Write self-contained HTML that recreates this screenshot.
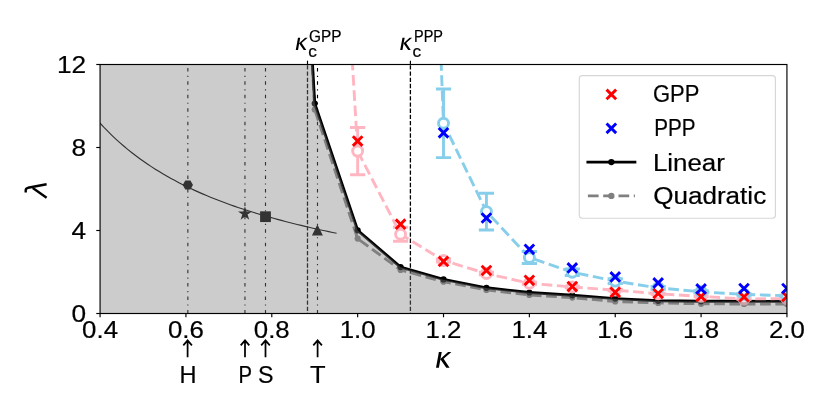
<!DOCTYPE html>
<html><head><meta charset="utf-8"><title>chart</title><style>html,body{margin:0;padding:0;background:#fff;}body{width:830px;height:415px;overflow:hidden;position:relative;font-family:"Liberation Sans",sans-serif;}</style></head><body>
<svg width="830" height="415" viewBox="0 0 830 415" style="position:absolute;left:0;top:0;will-change:transform;font-family:'Liberation Sans',sans-serif">
<defs><clipPath id="ax"><rect x="100.07" y="64.5" width="686.86" height="249"/></clipPath></defs>
<rect x="0" y="0" width="830" height="415" fill="#fff"/>
<g clip-path="url(#ax)">
<polyline points="100.07,123.13 104.01,127.38 107.95,131.44 111.9,135.33 115.84,139.05 119.78,142.62 123.72,146.04 127.67,149.33 131.61,152.5 135.55,155.54 139.49,158.47 143.44,161.29 147.38,164.01 151.32,166.63 155.26,169.16 159.21,171.61 163.15,173.97 167.09,176.26 171.03,178.47 174.98,180.61 178.92,182.68 182.86,184.69 186.8,186.64 190.75,188.53 194.69,190.36 198.63,192.14 202.57,193.87 206.51,195.55 210.46,197.18 214.4,198.77 218.34,200.31 222.28,201.82 226.23,203.28 230.17,204.71 234.11,206.09 238.05,207.45 242,208.77 245.94,210.05 249.88,211.31 253.82,212.53 257.77,213.73 261.71,214.89 265.65,216.03 269.59,217.14 273.54,218.25 277.48,219.34 281.42,220.41 285.36,221.46 289.31,222.48 293.25,223.48 297.19,224.47 301.13,225.43 305.08,226.37 309.02,227.3 312.96,228.2 316.9,229.09 320.84,229.96 324.79,230.81 328.73,231.65 332.67,232.47 336.61,233.28" fill="none" stroke="#000" stroke-width="1.15"/>
<polygon points="192.17,185 190.01,188.74 185.69,188.74 183.53,185 185.69,181.26 190.01,181.26" fill="#000" stroke="#000" stroke-width="1.44" stroke-linejoin="miter" stroke-miterlimit="10"/>
<polygon points="244.95,208.7 246.07,212.15 249.71,212.15 246.77,214.29 247.89,217.75 244.95,215.61 242.01,217.75 243.13,214.29 240.19,212.15 243.83,212.15" fill="#000" stroke="#000" stroke-width="1.44" stroke-linejoin="miter" stroke-miterlimit="10"/>
<rect x="260.85" y="212.05" width="9.3" height="9.3" fill="#000" stroke="#000" stroke-width="1.44" stroke-linejoin="miter" stroke-miterlimit="10"/>
<polygon points="317.4,226.08 313.08,234.72 321.72,234.72" fill="#000" stroke="#000" stroke-width="1.44" stroke-linejoin="miter" stroke-miterlimit="10"/>
<line x1="187.85" y1="313.5" x2="187.85" y2="64.5" stroke="#000" stroke-width="1.15" stroke-dasharray="3.5 4.4 1.15 4.4"/>
<line x1="244.95" y1="313.5" x2="244.95" y2="64.5" stroke="#000" stroke-width="1.15" stroke-dasharray="3.5 4.4 1.15 4.4"/>
<line x1="265.5" y1="313.5" x2="265.5" y2="64.5" stroke="#000" stroke-width="1.15" stroke-dasharray="3.5 4.4 1.15 4.4"/>
<line x1="317.5" y1="313.5" x2="317.5" y2="64.5" stroke="#000" stroke-width="1.15" stroke-dasharray="3.5 4.4 1.15 4.4"/>
</g>
<line x1="307.5" y1="313.5" x2="307.5" y2="64.5" stroke="#000" stroke-width="1.3" stroke-dasharray="4.33 1.86" stroke-dashoffset="3.68"/>
<line x1="307.5" y1="64.5" x2="307.5" y2="60.7" stroke="#000" stroke-width="1.15"/>
<line x1="410.4" y1="313.5" x2="410.4" y2="64.5" stroke="#000" stroke-width="1.3" stroke-dasharray="4.33 1.86" stroke-dashoffset="3.68"/>
<line x1="410.4" y1="64.5" x2="410.4" y2="60.7" stroke="#000" stroke-width="1.15"/>
<g clip-path="url(#ax)">
<polyline points="312.3,64.5 314.72,109.5 357.65,238.6 400.58,269.9 443.51,281.7 486.44,289.9 529.37,295 572.3,297.6 615.23,301.5 658.16,302.9 701.09,303.8 744.02,304 786.95,304" fill="none" stroke="#808080" stroke-width="2.9" stroke-dasharray="10.7 4.6" stroke-linejoin="round"/>
<circle cx="314.72" cy="109.5" r="3.1" fill="#808080"/>
<circle cx="357.65" cy="238.6" r="3.1" fill="#808080"/>
<circle cx="400.58" cy="269.9" r="3.1" fill="#808080"/>
<circle cx="443.51" cy="281.7" r="3.1" fill="#808080"/>
<circle cx="486.44" cy="289.9" r="3.1" fill="#808080"/>
<circle cx="529.37" cy="295" r="3.1" fill="#808080"/>
<circle cx="572.3" cy="297.6" r="3.1" fill="#808080"/>
<circle cx="615.23" cy="301.5" r="3.1" fill="#808080"/>
<circle cx="658.16" cy="302.9" r="3.1" fill="#808080"/>
<circle cx="701.09" cy="303.8" r="3.1" fill="#808080"/>
<circle cx="744.02" cy="304" r="3.1" fill="#808080"/>
<circle cx="786.95" cy="304" r="3.1" fill="#808080"/>
<polyline points="312.5,64.5 314.72,103.5 357.65,230.3 400.58,267.1 443.51,279.4 486.44,287.8 529.37,292.5 572.3,295.3 615.23,298.6 658.16,300.8 701.09,301.3 744.02,301.3 786.95,301.4" fill="none" stroke="#000" stroke-width="2.9" stroke-linejoin="round"/>
<circle cx="314.72" cy="103.5" r="3.1" fill="#000"/>
<circle cx="357.65" cy="230.3" r="3.1" fill="#000"/>
<circle cx="400.58" cy="267.1" r="3.1" fill="#000"/>
<circle cx="443.51" cy="279.4" r="3.1" fill="#000"/>
<circle cx="486.44" cy="287.8" r="3.1" fill="#000"/>
<circle cx="529.37" cy="292.5" r="3.1" fill="#000"/>
<circle cx="572.3" cy="295.3" r="3.1" fill="#000"/>
<circle cx="615.23" cy="298.6" r="3.1" fill="#000"/>
<circle cx="658.16" cy="300.8" r="3.1" fill="#000"/>
<circle cx="701.09" cy="301.3" r="3.1" fill="#000"/>
<circle cx="744.02" cy="301.3" r="3.1" fill="#000"/>
<circle cx="786.95" cy="301.4" r="3.1" fill="#000"/>
<polyline points="352.51,64.5 357.65,151.1 400.58,234.2 443.51,260.5 486.44,273.5 529.37,283.3 572.3,287 615.23,290.1 658.16,293.8 701.09,296.4 744.02,299 786.95,298.6" fill="none" stroke="#ffb6c1" stroke-width="2.9" stroke-dasharray="10.7 4.6" stroke-dashoffset="4.8" stroke-linejoin="round"/>
<path d="M357.65 127.5V174.7M350.05 127.5H365.25M350.05 174.7H365.25" fill="none" stroke="#ffb6c1" stroke-width="2.9"/>
<path d="M400.58 227.2V241.2M392.98 227.2H408.18M392.98 241.2H408.18" fill="none" stroke="#ffb6c1" stroke-width="2.9"/>
<path d="M443.51 259V262M435.91 259H451.11M435.91 262H451.11" fill="none" stroke="#ffb6c1" stroke-width="2.9"/>
<path d="M486.44 272.3V274.7M478.84 272.3H494.04M478.84 274.7H494.04" fill="none" stroke="#ffb6c1" stroke-width="2.9"/>
<path d="M529.37 282.3V284.3M521.77 282.3H536.97M521.77 284.3H536.97" fill="none" stroke="#ffb6c1" stroke-width="2.9"/>
<path d="M572.3 286.2V287.8M564.7 286.2H579.9M564.7 287.8H579.9" fill="none" stroke="#ffb6c1" stroke-width="2.9"/>
<path d="M615.23 289.5V290.7M607.63 289.5H622.83M607.63 290.7H622.83" fill="none" stroke="#ffb6c1" stroke-width="2.9"/>
<path d="M658.16 293.3V294.3M650.56 293.3H665.76M650.56 294.3H665.76" fill="none" stroke="#ffb6c1" stroke-width="2.9"/>
<path d="M701.09 296V296.8M693.49 296H708.69M693.49 296.8H708.69" fill="none" stroke="#ffb6c1" stroke-width="2.9"/>
<path d="M744.02 298.6V299.4M736.42 298.6H751.62M736.42 299.4H751.62" fill="none" stroke="#ffb6c1" stroke-width="2.9"/>
<path d="M786.95 298.2V299M779.35 298.2H794.55M779.35 299H794.55" fill="none" stroke="#ffb6c1" stroke-width="2.9"/>
<circle cx="357.65" cy="151.1" r="5" fill="#fff" stroke="#ffb6c1" stroke-width="2.9"/>
<circle cx="400.58" cy="234.2" r="5" fill="#fff" stroke="#ffb6c1" stroke-width="2.9"/>
<circle cx="443.51" cy="260.5" r="5" fill="#fff" stroke="#ffb6c1" stroke-width="2.9"/>
<circle cx="486.44" cy="273.5" r="5" fill="#fff" stroke="#ffb6c1" stroke-width="2.9"/>
<circle cx="529.37" cy="283.3" r="5" fill="#fff" stroke="#ffb6c1" stroke-width="2.9"/>
<circle cx="572.3" cy="287" r="5" fill="#fff" stroke="#ffb6c1" stroke-width="2.9"/>
<circle cx="615.23" cy="290.1" r="5" fill="#fff" stroke="#ffb6c1" stroke-width="2.9"/>
<circle cx="658.16" cy="293.8" r="5" fill="#fff" stroke="#ffb6c1" stroke-width="2.9"/>
<circle cx="701.09" cy="296.4" r="5" fill="#fff" stroke="#ffb6c1" stroke-width="2.9"/>
<circle cx="744.02" cy="299" r="5" fill="#fff" stroke="#ffb6c1" stroke-width="2.9"/>
<circle cx="786.95" cy="298.6" r="5" fill="#fff" stroke="#ffb6c1" stroke-width="2.9"/>
<polyline points="441.03,60 443.51,123.3 486.44,211.6 529.37,257.5 572.3,272.2 615.23,281.1 658.16,287.9 701.09,291.8 744.02,294.4 786.95,295.8" fill="none" stroke="#87ceeb" stroke-width="2.9" stroke-dasharray="10.7 4.6" stroke-dashoffset="0" stroke-linejoin="round"/>
<path d="M443.51 89V157.6M435.91 89H451.11M435.91 157.6H451.11" fill="none" stroke="#87ceeb" stroke-width="2.9"/>
<path d="M486.44 193.2V230M478.84 193.2H494.04M478.84 230H494.04" fill="none" stroke="#87ceeb" stroke-width="2.9"/>
<path d="M529.37 251.5V263.5M521.77 251.5H536.97M521.77 263.5H536.97" fill="none" stroke="#87ceeb" stroke-width="2.9"/>
<path d="M572.3 268.9V275.5M564.7 268.9H579.9M564.7 275.5H579.9" fill="none" stroke="#87ceeb" stroke-width="2.9"/>
<path d="M615.23 278.7V283.5M607.63 278.7H622.83M607.63 283.5H622.83" fill="none" stroke="#87ceeb" stroke-width="2.9"/>
<path d="M658.16 286.4V289.4M650.56 286.4H665.76M650.56 289.4H665.76" fill="none" stroke="#87ceeb" stroke-width="2.9"/>
<path d="M701.09 290.8V292.8M693.49 290.8H708.69M693.49 292.8H708.69" fill="none" stroke="#87ceeb" stroke-width="2.9"/>
<path d="M744.02 293.6V295.2M736.42 293.6H751.62M736.42 295.2H751.62" fill="none" stroke="#87ceeb" stroke-width="2.9"/>
<path d="M786.95 295.2V296.4M779.35 295.2H794.55M779.35 296.4H794.55" fill="none" stroke="#87ceeb" stroke-width="2.9"/>
<circle cx="443.51" cy="123.3" r="5" fill="#fff" stroke="#87ceeb" stroke-width="2.9"/>
<circle cx="486.44" cy="211.6" r="5" fill="#fff" stroke="#87ceeb" stroke-width="2.9"/>
<circle cx="529.37" cy="257.5" r="5" fill="#fff" stroke="#87ceeb" stroke-width="2.9"/>
<circle cx="572.3" cy="272.2" r="5" fill="#fff" stroke="#87ceeb" stroke-width="2.9"/>
<circle cx="615.23" cy="281.1" r="5" fill="#fff" stroke="#87ceeb" stroke-width="2.9"/>
<circle cx="658.16" cy="287.9" r="5" fill="#fff" stroke="#87ceeb" stroke-width="2.9"/>
<circle cx="701.09" cy="291.8" r="5" fill="#fff" stroke="#87ceeb" stroke-width="2.9"/>
<circle cx="744.02" cy="294.4" r="5" fill="#fff" stroke="#87ceeb" stroke-width="2.9"/>
<circle cx="786.95" cy="295.8" r="5" fill="#fff" stroke="#87ceeb" stroke-width="2.9"/>
<path d="M352.85 136.3L362.45 145.9M352.85 145.9L362.45 136.3" stroke="#ff0000" stroke-width="2.9" fill="none"/>
<path d="M395.78 219.4L405.38 229M395.78 229L405.38 219.4" stroke="#ff0000" stroke-width="2.9" fill="none"/>
<path d="M438.71 256.6L448.31 266.2M438.71 266.2L448.31 256.6" stroke="#ff0000" stroke-width="2.9" fill="none"/>
<path d="M481.64 265.7L491.24 275.3M481.64 275.3L491.24 265.7" stroke="#ff0000" stroke-width="2.9" fill="none"/>
<path d="M524.57 275.5L534.17 285.1M524.57 285.1L534.17 275.5" stroke="#ff0000" stroke-width="2.9" fill="none"/>
<path d="M567.5 281.8L577.1 291.4M567.5 291.4L577.1 281.8" stroke="#ff0000" stroke-width="2.9" fill="none"/>
<path d="M610.43 287.5L620.03 297.1M610.43 297.1L620.03 287.5" stroke="#ff0000" stroke-width="2.9" fill="none"/>
<path d="M653.36 288.7L662.96 298.3M653.36 298.3L662.96 288.7" stroke="#ff0000" stroke-width="2.9" fill="none"/>
<path d="M696.29 291.8L705.89 301.4M696.29 301.4L705.89 291.8" stroke="#ff0000" stroke-width="2.9" fill="none"/>
<path d="M739.22 292.1L748.82 301.7M739.22 301.7L748.82 292.1" stroke="#ff0000" stroke-width="2.9" fill="none"/>
<path d="M782.15 291.8L791.75 301.4M782.15 301.4L791.75 291.8" stroke="#ff0000" stroke-width="2.9" fill="none"/>
<path d="M438.71 128L448.31 137.6M438.71 137.6L448.31 128" stroke="#0000ff" stroke-width="2.9" fill="none"/>
<path d="M481.64 213.2L491.24 222.8M481.64 222.8L491.24 213.2" stroke="#0000ff" stroke-width="2.9" fill="none"/>
<path d="M524.57 244.5L534.17 254.1M524.57 254.1L534.17 244.5" stroke="#0000ff" stroke-width="2.9" fill="none"/>
<path d="M567.5 263.1L577.1 272.7M567.5 272.7L577.1 263.1" stroke="#0000ff" stroke-width="2.9" fill="none"/>
<path d="M610.43 272.1L620.03 281.7M610.43 281.7L620.03 272.1" stroke="#0000ff" stroke-width="2.9" fill="none"/>
<path d="M653.36 278.1L662.96 287.7M653.36 287.7L662.96 278.1" stroke="#0000ff" stroke-width="2.9" fill="none"/>
<path d="M696.29 284.1L705.89 293.7M696.29 293.7L705.89 284.1" stroke="#0000ff" stroke-width="2.9" fill="none"/>
<path d="M739.22 283.7L748.82 293.3M739.22 293.3L748.82 283.7" stroke="#0000ff" stroke-width="2.9" fill="none"/>
<path d="M782.15 283.7L791.75 293.3M782.15 293.3L791.75 283.7" stroke="#0000ff" stroke-width="2.9" fill="none"/>
<polygon points="100.07,64.5 312.5,64.5 314.72,103.5 357.65,230.55 400.58,267.35 443.51,279.65 486.44,288.05 529.37,292.75 572.3,295.55 615.23,298.85 658.16,301.05 701.09,301.55 744.02,301.55 786.95,301.65 786.93,313.5 100.07,313.5" fill="#808080" fill-opacity="0.4"/>
</g>
<rect x="100.07" y="64.5" width="686.86" height="249" fill="none" stroke="#000" stroke-width="1.15"/>
<line x1="100.07" y1="313.5" x2="100.07" y2="317.3" stroke="#000" stroke-width="1.15"/>
<line x1="185.93" y1="313.5" x2="185.93" y2="317.3" stroke="#000" stroke-width="1.15"/>
<line x1="271.79" y1="313.5" x2="271.79" y2="317.3" stroke="#000" stroke-width="1.15"/>
<line x1="357.65" y1="313.5" x2="357.65" y2="317.3" stroke="#000" stroke-width="1.15"/>
<line x1="443.51" y1="313.5" x2="443.51" y2="317.3" stroke="#000" stroke-width="1.15"/>
<line x1="529.37" y1="313.5" x2="529.37" y2="317.3" stroke="#000" stroke-width="1.15"/>
<line x1="615.23" y1="313.5" x2="615.23" y2="317.3" stroke="#000" stroke-width="1.15"/>
<line x1="701.09" y1="313.5" x2="701.09" y2="317.3" stroke="#000" stroke-width="1.15"/>
<line x1="786.95" y1="313.5" x2="786.95" y2="317.3" stroke="#000" stroke-width="1.15"/>
<line x1="100.07" y1="313.5" x2="96.27" y2="313.5" stroke="#000" stroke-width="1.15"/>
<line x1="100.07" y1="230.5" x2="96.27" y2="230.5" stroke="#000" stroke-width="1.15"/>
<line x1="100.07" y1="147.5" x2="96.27" y2="147.5" stroke="#000" stroke-width="1.15"/>
<line x1="100.07" y1="64.5" x2="96.27" y2="64.5" stroke="#000" stroke-width="1.15"/>
<text x="100.07" y="337.5" font-size="23.5" text-anchor="middle" stroke="#000" stroke-width="0.2" textLength="35.9" lengthAdjust="spacingAndGlyphs">0.4</text>
<text x="185.93" y="337.5" font-size="23.5" text-anchor="middle" stroke="#000" stroke-width="0.2" textLength="35.9" lengthAdjust="spacingAndGlyphs">0.6</text>
<text x="271.79" y="337.5" font-size="23.5" text-anchor="middle" stroke="#000" stroke-width="0.2" textLength="35.9" lengthAdjust="spacingAndGlyphs">0.8</text>
<text x="357.65" y="337.5" font-size="23.5" text-anchor="middle" stroke="#000" stroke-width="0.2" textLength="35.9" lengthAdjust="spacingAndGlyphs">1.0</text>
<text x="443.51" y="337.5" font-size="23.5" text-anchor="middle" stroke="#000" stroke-width="0.2" textLength="35.9" lengthAdjust="spacingAndGlyphs">1.2</text>
<text x="529.37" y="337.5" font-size="23.5" text-anchor="middle" stroke="#000" stroke-width="0.2" textLength="35.9" lengthAdjust="spacingAndGlyphs">1.4</text>
<text x="615.23" y="337.5" font-size="23.5" text-anchor="middle" stroke="#000" stroke-width="0.2" textLength="35.9" lengthAdjust="spacingAndGlyphs">1.6</text>
<text x="701.09" y="337.5" font-size="23.5" text-anchor="middle" stroke="#000" stroke-width="0.2" textLength="35.9" lengthAdjust="spacingAndGlyphs">1.8</text>
<text x="786.95" y="337.5" font-size="23.5" text-anchor="middle" stroke="#000" stroke-width="0.2" textLength="35.9" lengthAdjust="spacingAndGlyphs">2.0</text>
<text x="86.2" y="321.9" font-size="23.5" text-anchor="end" stroke="#000" stroke-width="0.2" textLength="14.6" lengthAdjust="spacingAndGlyphs">0</text>
<text x="86.2" y="238.9" font-size="23.5" text-anchor="end" stroke="#000" stroke-width="0.2" textLength="14.6" lengthAdjust="spacingAndGlyphs">4</text>
<text x="86.2" y="155.9" font-size="23.5" text-anchor="end" stroke="#000" stroke-width="0.2" textLength="14.6" lengthAdjust="spacingAndGlyphs">8</text>
<text x="86.2" y="72.9" font-size="23.5" text-anchor="end" stroke="#000" stroke-width="0.2" textLength="29.2" lengthAdjust="spacingAndGlyphs">12</text>
<path d="M187.6 357.2V340.6M183.3 345.4L187.6 340.4L191.9 345.4" fill="none" stroke="#000" stroke-width="1.75" stroke-linejoin="miter"/>
<text x="187.9" y="382.7" font-size="23.2" text-anchor="middle" stroke="#000" stroke-width="0.2" textLength="17" lengthAdjust="spacingAndGlyphs">H</text>
<path d="M245 357.2V340.6M240.7 345.4L245 340.4L249.3 345.4" fill="none" stroke="#000" stroke-width="1.75" stroke-linejoin="miter"/>
<text x="245.3" y="382.7" font-size="23.2" text-anchor="middle" stroke="#000" stroke-width="0.2" textLength="13.5" lengthAdjust="spacingAndGlyphs">P</text>
<path d="M265.5 357.2V340.6M261.2 345.4L265.5 340.4L269.8 345.4" fill="none" stroke="#000" stroke-width="1.75" stroke-linejoin="miter"/>
<text x="265.8" y="382.7" font-size="23.2" text-anchor="middle" stroke="#000" stroke-width="0.2" textLength="15.5" lengthAdjust="spacingAndGlyphs">S</text>
<path d="M317.6 357.2V340.6M313.3 345.4L317.6 340.4L321.9 345.4" fill="none" stroke="#000" stroke-width="1.75" stroke-linejoin="miter"/>
<text x="317.9" y="382.7" font-size="23.2" text-anchor="middle" stroke="#000" stroke-width="0.2" textLength="15.6" lengthAdjust="spacingAndGlyphs">T</text>
<path d="M25.7 192.4V190.2Q25.7 188.3 28 187.8L46.6 184.3M32.8 188.1L46.6 197.7" fill="none" stroke="#000" stroke-width="2.4"/>
<polygon points="438.9,352.1 441.75,352.1 438.9,367.8 436,367.8" fill="#000"/>
<polygon points="448.1,352.1 451.4,352.1 443.6,358.8 449.6,367.8 446.3,367.8 440.9,360 440,359.31" fill="#000"/>
<polygon points="298,37.85 300.2,37.85 298,50 295.75,50" fill="#000"/>
<polygon points="305.12,37.85 307.67,37.85 301.63,43.04 306.27,50 303.72,50 299.54,43.96 298.85,43.43" fill="#000"/>
<polygon points="402.45,37.85 404.65,37.85 402.45,50 400.2,50" fill="#000"/>
<polygon points="409.57,37.85 412.12,37.85 406.08,43.04 410.72,50 408.17,50 403.99,43.96 403.3,43.43" fill="#000"/>
<text x="308.2" y="56.5" font-size="16.3" text-anchor="start" stroke="#000" stroke-width="0.2" textLength="8.6" lengthAdjust="spacingAndGlyphs">c</text>
<text x="309" y="42.3" font-size="16.3" text-anchor="start" stroke="#000" stroke-width="0.2" textLength="32.5" lengthAdjust="spacingAndGlyphs">GPP</text>
<text x="412.5" y="56.5" font-size="16.3" text-anchor="start" stroke="#000" stroke-width="0.2" textLength="8.6" lengthAdjust="spacingAndGlyphs">c</text>
<text x="414" y="42.3" font-size="16.3" text-anchor="start" stroke="#000" stroke-width="0.2" textLength="29" lengthAdjust="spacingAndGlyphs">PPP</text>
<rect x="579.3" y="75.6" width="196.1" height="142.6" rx="3" ry="3" fill="#fff" fill-opacity="0.8" stroke="#cccccc" stroke-opacity="0.8" stroke-width="1.15"/>
<path d="M606.55 89.6L616.15 99.2M606.55 99.2L616.15 89.6" stroke="#ff0000" stroke-width="2.9" fill="none"/>
<path d="M606.55 123.5L616.15 133.1M606.55 133.1L616.15 123.5" stroke="#0000ff" stroke-width="2.9" fill="none"/>
<line x1="587.9" y1="162.1" x2="634.9" y2="162.1" stroke="#000" stroke-width="2.9" stroke-linecap="square"/><circle cx="611.35" cy="162.1" r="3.15" fill="#000"/>
<line x1="587.9" y1="195.9" x2="634.9" y2="195.9" stroke="#808080" stroke-width="2.9" stroke-dasharray="10.7 4.6"/><circle cx="611.35" cy="195.9" r="3.15" fill="#808080"/>
<text x="653" y="102" font-size="23.3" text-anchor="start" stroke="#000" stroke-width="0.2" textLength="46.4" lengthAdjust="spacingAndGlyphs">GPP</text>
<text x="654.2" y="135.8" font-size="23.3" text-anchor="start" stroke="#000" stroke-width="0.2" textLength="41.3" lengthAdjust="spacingAndGlyphs">PPP</text>
<text x="652.9" y="170.8" font-size="23.5" text-anchor="start" stroke="#000" stroke-width="0.2" textLength="72" lengthAdjust="spacingAndGlyphs">Linear</text>
<text x="653.2" y="204" font-size="23.5" text-anchor="start" stroke="#000" stroke-width="0.2" textLength="113" lengthAdjust="spacingAndGlyphs">Quadratic</text>
</svg>
</body></html>
